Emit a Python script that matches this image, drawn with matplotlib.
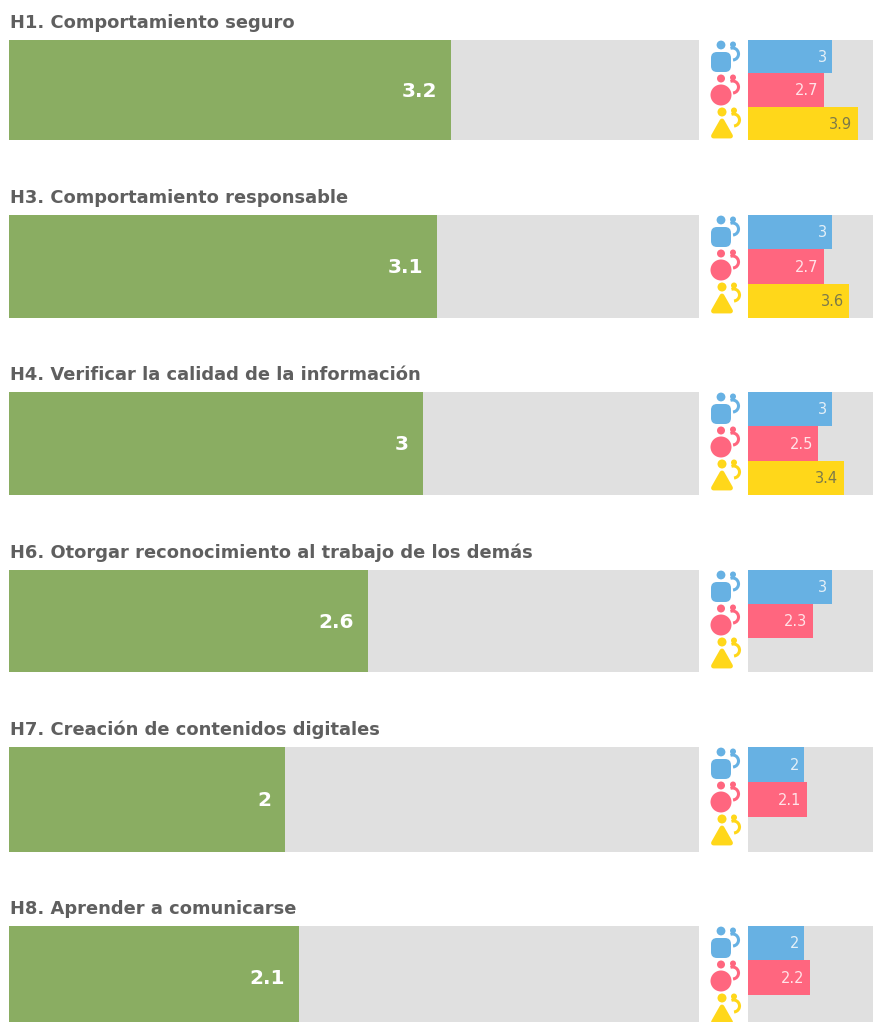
import matplotlib
matplotlib.use('Agg')
import matplotlib.pyplot as plt
from matplotlib.patches import Circle, FancyBboxPatch, Polygon, Arc

# Datos
titulos = ['H1. Comportamiento seguro', 'H3. Comportamiento responsable',
           'H4. Verificar la calidad de la información',
           'H6. Otorgar reconocimiento al trabajo de los demás',
           'H7. Creación de contenidos digitales', 'H8. Aprender a comunicarse']
total = [3.2, 3.1, 3, 2.6, 2, 2.1]
azul = [3, 3, 3, 3, 2, 2]
rojo = [2.7, 2.7, 2.5, 2.3, 2.1, 2.2]
amarillo = [3.9, 3.6, 3.4, None, None, None]

# Posicion de cada fila en pixeles (arriba, alto)
filas_y = [40, 215, 392, 570, 747, 926]
filas_h = [100, 103, 103, 102, 105, 103]

W, H = 874, 1022
VERDE, GRIS, AZUL, ROJO, AMAR = '#8AAD62', '#E0E0E0', '#67B1E3', '#FF667F', '#FFD71A'
TEXTO = '#5F5F5F'
MAX_GRANDE = 5.0
MAX_CHICA = 4.44

fig = plt.figure(figsize=(W / 100, H / 100), dpi=100)


def ejes(x0, x1, y0, y1):
    ax = fig.add_axes([x0 / W, 1 - y1 / H, (x1 - x0) / W, (y1 - y0) / H])
    ax.axis('off')
    return ax


# capa en pixeles para los iconos
capa = ejes(0, W, 0, H)
capa.set_xlim(0, W)
capa.set_ylim(H, 0)


def persona_chica(cx, cy, color):
    capa.add_patch(Circle((cx + 12, cy - 17.5), 3, color=color, lw=0))
    capa.add_patch(Arc((cx + 11.5, cy - 8), 12, 12, theta1=-110, theta2=85, color=color, lw=2.2))


def icono_azul(cx, cy):
    capa.add_patch(Circle((cx, cy - 17), 4.4, color=AZUL, lw=0))
    capa.add_patch(FancyBboxPatch((cx - 6, cy - 6), 12, 12, boxstyle='round,pad=4,rounding_size=6',
                                  color=AZUL, lw=0))
    persona_chica(cx, cy, AZUL)


def icono_rojo(cx, cy):
    capa.add_patch(Circle((cx, cy - 16.5), 4, color=ROJO, lw=0))
    capa.add_patch(Circle((cx, cy), 10.5, color=ROJO, lw=0))
    persona_chica(cx, cy, ROJO)


def icono_amarillo(cx, cy):
    capa.add_patch(Circle((cx, cy - 16), 4.5, color=AMAR, lw=0))
    capa.add_patch(Polygon([[cx, cy - 7], [cx + 8.5, cy + 8], [cx - 8.5, cy + 8]], closed=True,
                           facecolor=AMAR, edgecolor=AMAR, lw=3.5, joinstyle='round'))
    persona_chica(cx, cy, AMAR)


for i in range(6):
    y0 = filas_y[i]
    h = filas_h[i]
    y1 = y0 + h

    fig.text(10 / W, 1 - (y0 - 12) / H, titulos[i], color=TEXTO, fontsize=12.9, fontweight='bold',
             family='DejaVu Sans', va='baseline', ha='left')

    # barra grande
    ax = ejes(9, 699, y0, y1)
    ax.set_xlim(0, MAX_GRANDE)
    ax.set_ylim(0, 1)
    ax.barh(0.5, MAX_GRANDE, height=1, color=GRIS)
    ax.barh(0.5, total[i], height=1, color=VERDE)
    ax.annotate(f'{total[i]:g}', (total[i], 0.5), xytext=(-10, -1), textcoords='offset points',
                color='white', fontsize=14.5, fontweight='bold', ha='right', va='center')

    # barras por grupo
    ax2 = ejes(748, 873, y0, y1)
    ax2.set_xlim(0, MAX_CHICA)
    ax2.set_ylim(3, 0)
    ax2.barh(1.5, MAX_CHICA, height=3, color=GRIS)
    valores = [azul[i], rojo[i], amarillo[i]]
    colores = [AZUL, ROJO, AMAR]
    letras = ['#E4F0F8', '#FFE3E8', '#7C7A4A']
    for j in range(3):
        if valores[j] is None:
            continue
        ax2.barh(j + 0.5, valores[j], height=1, color=colores[j])
        ax2.annotate(f'{valores[j]:g}', (valores[j], j + 0.5), xytext=(-4, -0.5), textcoords='offset points',
                     color=letras[j], fontsize=10.5, ha='right', va='center')

    icono_azul(721, y0 + 22)
    icono_rojo(721, y0 + 55)
    icono_amarillo(722, y0 + 88)

capa.set_zorder(5)
fig.savefig('out.png', dpi=100)
